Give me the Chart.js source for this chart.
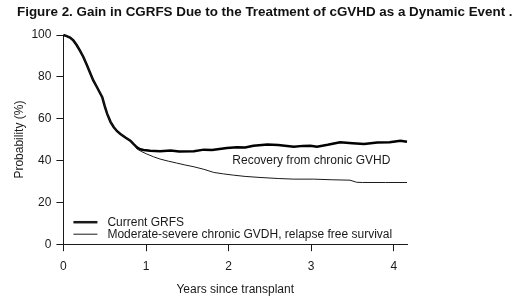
<!DOCTYPE html>
<html>
<head>
<meta charset="utf-8">
<script src="https://cdn.jsdelivr.net/npm/chart.js@4.4.1/dist/chart.umd.min.js"></script>
<style>
  body { margin: 0; background: #fff; }
  #wrap { width: 520px; height: 306px; }
</style>
</head>
<body>
<div id="wrap"><canvas id="gvhdchart" width="520" height="306"></canvas></div>
<script>
// Current GRFS (thick line)
const grfsYears = [0, 0.04, 0.08, 0.12, 0.16, 0.2, 0.24, 0.28, 0.32, 0.36, 0.40, 0.44, 0.47, 0.50, 0.53, 0.57, 0.61, 0.65, 0.69, 0.75, 0.81, 0.85,
  0.89, 0.93, 0.97, 1.05, 1.17, 1.3, 1.4, 1.58, 1.7, 1.8, 1.98, 2.1, 2.2, 2.3, 2.47, 2.6, 2.79, 2.9, 2.99, 3.07, 3.2, 3.35, 3.5, 3.64, 3.8, 3.95, 4.08, 4.16]
const grfsValues = [100, 99.5, 98.8, 97.4, 95.2, 92.5, 89.6, 86, 82.2, 78.4, 75.5, 72.5, 70.3, 66, 62.3, 58.5, 55.9, 54, 52.7, 51, 49.5, 47.8,
  46.3, 45.4, 45.0, 44.7, 44.4, 44.8, 44.3, 44.4, 45.2, 45.0, 46.0, 46.3, 46.2, 47.1, 47.6, 47.4, 46.6, 47.0, 47.1, 46.6, 47.5, 48.7, 48.3, 47.9, 48.6, 48.7, 49.5, 49.0]

// Moderate-severe chronic GVHD, relapse free survival (thin line)
const crfsYears = [0, 0.04, 0.08, 0.12, 0.16, 0.2, 0.24, 0.28, 0.32, 0.36, 0.40, 0.44, 0.47, 0.50, 0.53, 0.57, 0.61, 0.65, 0.69, 0.75, 0.81, 0.85,
  0.89, 0.95, 1.01, 1.09, 1.17, 1.27, 1.37, 1.47, 1.58, 1.7, 1.82, 1.94, 2.06, 2.2, 2.38, 2.6, 2.79, 3.03, 3.25, 3.47, 3.55, 3.62, 3.9, 4.16]
const crfsValues = [100, 99.5, 98.8, 97.4, 95.2, 92.5, 89.6, 86, 82.2, 78.4, 75.5, 72.5, 70.3, 66, 62.3, 58.5, 55.9, 54, 52.7, 51, 49.5, 47.8,
  45.5, 44.2, 43.1, 41.8, 40.7, 39.7, 38.8, 37.9, 37.0, 35.8, 34.3, 33.6, 33.0, 32.4, 31.9, 31.4, 31.1, 31.1, 30.8, 30.6, 29.6, 29.5, 29.5, 29.5]

const xTicks = [0, 1, 2, 3, 4]
const yTicks = [0, 20, 40, 60, 80, 100]

const titleText = "Figure 2. Gain in CGRFS Due to the Treatment of cGVHD as a Dynamic Event ."
const gapLabel = "Recovery from chronic GVHD"
const gapLabelAt = { x: 2.045, y: 40 }
const legendLabels = ["Current GRFS", "Moderate-severe chronic GVDH, relapse free survival"]

const ink = "#1a1a1a"
const fontFam = "Arial, 'Liberation Sans', sans-serif"

function toPoints(xs, ys) {
    return xs.map(function (x, i) { return { x: x, y: ys[i] } })
}

const extras = {
    id: "extras",
    afterDraw(chart) {
        const ctx = chart.ctx
        const xs = chart.scales.x
        const ys = chart.scales.y
        const area = chart.chartArea
        ctx.save()
        ctx.fillStyle = "#111"
        ctx.textBaseline = "middle"
        ctx.textAlign = "left"
        // figure title (drawn here so layout padding does not squeeze it)
        ctx.font = "bold 13.4px " + fontFam
        ctx.fillText(titleText, 17, 12)

        ctx.fillStyle = ink
        ctx.font = "12px " + fontFam
        ctx.fillText(gapLabel, xs.getPixelForValue(gapLabelAt.x), ys.getPixelForValue(gapLabelAt.y))

        // legend, bottom-left inside plot
        const lx = area.left + 10
        const rows = [area.bottom - 22, area.bottom - 10]
        const widths = [2.5, 1]
        rows.forEach(function (ry, i) {
            ctx.strokeStyle = ink
            ctx.lineWidth = widths[i]
            ctx.beginPath()
            ctx.moveTo(lx, ry)
            ctx.lineTo(lx + 24, ry)
            ctx.stroke()
            ctx.fillText(legendLabels[i], lx + 34, ry)
        })
        ctx.restore()
    }
}

const config = {
    type: "line",
    data: {
        datasets: [{
            label: legendLabels[1],
            data: toPoints(crfsYears, crfsValues),
            borderColor: ink,
            borderWidth: 1,
            pointRadius: 0,
            tension: 0,
            clip: false
        }, {
            label: legendLabels[0],
            data: toPoints(grfsYears, grfsValues),
            borderColor: "#000",
            borderWidth: 2.5,
            pointRadius: 0,
            tension: 0,
            clip: false
        }]
    },
    options: {
        responsive: false,
        animation: false,
        devicePixelRatio: 1,
        layout: { padding: { left: 12, right: 113, top: 35, bottom: 9 } },
        plugins: {
            legend: { display: false },
            tooltip: { enabled: false },
            title: { display: false }
        },
        scales: {
            x: {
                type: "linear",
                min: 0,
                max: 4.16,
                afterBuildTicks: function (scale) {
                    scale.ticks = xTicks.map(function (v) { return { value: v } })
                },
                grid: { drawOnChartArea: false, drawTicks: true, tickLength: 7, color: ink },
                border: { display: true, color: ink, width: 1 },
                ticks: { color: ink, font: { family: fontFam, size: 12 }, padding: 8, maxRotation: 0 },
                title: {
                    display: true,
                    text: "Years since transplant",
                    color: ink,
                    font: { family: fontFam, size: 12 },
                    padding: { top: 1, bottom: 0 }
                }
            },
            y: {
                position: "left",
                min: 0,
                max: 100,
                afterBuildTicks: function (scale) {
                    scale.ticks = yTicks.map(function (v) { return { value: v } })
                },
                grid: { drawOnChartArea: false, drawTicks: true, tickLength: 7, color: ink },
                border: { display: true, color: ink, width: 1 },
                ticks: { color: ink, font: { family: fontFam, size: 12 }, padding: 5 },
                title: {
                    display: true,
                    text: "Probability (%)",
                    color: ink,
                    font: { family: fontFam, size: 12 },
                    padding: { top: 0, bottom: 0 }
                }
            }
        }
    },
    plugins: [extras]
}

const myChart = new Chart(document.getElementById("gvhdchart"), config)
</script>
</body>
</html>
